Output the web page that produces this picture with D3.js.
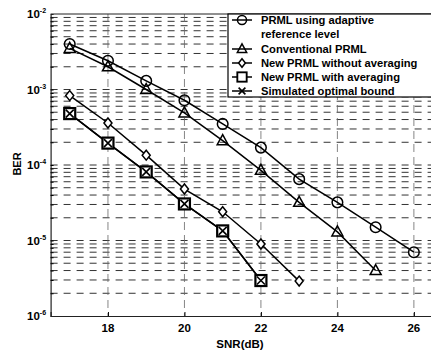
<!DOCTYPE html>
<html>
<head>
<meta charset="utf-8">
<script src="https://cdn.jsdelivr.net/npm/d3@7"></script>
<style>
  body { margin: 0; background: #fff; }
  svg { display: block; font-family: "Liberation Sans", Arial, sans-serif; font-weight: bold; }
</style>
</head>
<body>
<svg id="chart" width="431" height="353"></svg>
<script>
// data
const snr = [17, 18, 19, 20, 21, 22, 23, 24, 25, 26]
const adaptive = [4.0e-3, 2.4e-3, 1.3e-3, 7.2e-4, 3.5e-4, 1.7e-4, 6.5e-5, 3.2e-5, 1.5e-5, 7.0e-6]
const conventional = [3.5e-3, 2.0e-3, 1.0e-3, 4.9e-4, 2.1e-4, 8.5e-5, 3.2e-5, 1.3e-5, 4.0e-6]
const noAveraging = [8.3e-4, 3.6e-4, 1.35e-4, 4.8e-5, 2.4e-5, 9.0e-6, 2.9e-6]
const withAveraging = [4.8e-4, 1.95e-4, 8.1e-5, 3.05e-5, 1.34e-5, 2.95e-6]
const optimalBound = [4.8e-4, 1.95e-4, 8.1e-5, 3.05e-5, 1.34e-5, 2.95e-6]

const xTicks = [18, 20, 22, 24, 26]
const yExponents = [-2, -3, -4, -5, -6]
const legendLabels = [
    ["PRML using adaptive", "reference level"],
    ["Conventional PRML"],
    ["New PRML without averaging"],
    ["New PRML with averaging"],
    ["Simulated optimal bound"],
]

const series = [
    { values: adaptive, marker: "circle" },
    { values: conventional, marker: "triangle" },
    { values: noAveraging, marker: "diamond" },
    { values: withAveraging, marker: "square" },
    { values: optimalBound, marker: "cross" },
]

const svg = d3.select("#chart")
const pLeft = 50.6, pRight = 433, pTop = 14, pBottom = 316

const x = d3.scaleLinear().domain([16.5, 26.5]).range([pLeft, pRight])
const y = d3.scaleLog().domain([1e-6, 1e-2]).range([pBottom, pTop])

// grid
const minorVals = []
for (let e = -6; e < -2; e++) for (let m = 1; m < 10; m++) minorVals.push(m * Math.pow(10, e))
const gridVals = minorVals.filter((v) => v > 1.01e-6)

svg.append("g")
    .selectAll("line")
    .data(gridVals)
    .join("line")
    .attr("x1", pLeft).attr("x2", pRight)
    .attr("y1", (d) => y(d)).attr("y2", (d) => y(d))
    .attr("stroke", "#333")
    .attr("stroke-width", 1)
    .attr("stroke-dasharray", "7,6")

svg.append("g")
    .selectAll("line")
    .data(xTicks)
    .join("line")
    .attr("x1", (d) => x(d)).attr("x2", (d) => x(d))
    .attr("y1", pTop).attr("y2", pBottom)
    .attr("stroke", "#666")
    .attr("stroke-width", 0.8)
    .attr("stroke-dasharray", "8,5")

// axes box
const axisL = svg.append("g").attr("transform", `translate(${pLeft},0)`)
    .call(d3.axisRight(y).tickValues(gridVals).tickSize(3).tickFormat(""))
axisL.select(".domain").attr("stroke", "#222").attr("stroke-width", 1.2)
const axisB = svg.append("g").attr("transform", `translate(0,${pBottom})`)
    .call(d3.axisTop(x).tickValues(xTicks).tickSize(4).tickFormat(""))
axisB.select(".domain").attr("stroke", "#222").attr("stroke-width", 1.2)
svg.append("line").attr("x1", pLeft).attr("x2", pRight).attr("y1", pTop).attr("y2", pTop)
    .attr("stroke", "#222").attr("stroke-width", 1.2)

// tick labels
svg.append("g")
    .selectAll("text")
    .data(xTicks)
    .join("text")
    .attr("x", (d) => x(d))
    .attr("y", 332)
    .attr("text-anchor", "middle")
    .attr("font-size", 11.5)
    .text((d) => d)

const yl = svg.append("g")
    .selectAll("text")
    .data(yExponents)
    .join("text")
    .attr("x", 27)
    .attr("y", (d) => y(Math.pow(10, d)) + 4)
    .attr("font-size", 11.5)
yl.append("tspan").text("10")
yl.append("tspan").attr("dy", -5).attr("font-size", 7).text((d) => d)

svg.append("text")
    .attr("transform", `translate(21,164) rotate(-90)`)
    .attr("text-anchor", "middle")
    .attr("font-size", 11)
    .text("BER")
svg.append("text")
    .attr("x", 240).attr("y", 348)
    .attr("text-anchor", "middle")
    .attr("font-size", 11.5)
    .text("SNR(dB)")

// markers
function drawMarker(g, type, k = 1) {
    if (type === "circle") {
        g.append("circle").attr("r", 5.3 * k).attr("fill", "none").attr("stroke", "#000").attr("stroke-width", 1.5)
    } else if (type === "triangle") {
        g.append("path").attr("d", d3.line()([[0, -6 * k], [5.5 * k, 4 * k], [-5.5 * k, 4 * k]]) + "Z")
            .attr("fill", "none").attr("stroke", "#000").attr("stroke-width", 1.5)
    } else if (type === "diamond") {
        g.append("path").attr("d", d3.line()([[0, -5 * k], [4 * k, 0], [0, 5 * k], [-4 * k, 0]]) + "Z")
            .attr("fill", "#fff").attr("stroke", "#000").attr("stroke-width", 1.5)
    } else if (type === "square") {
        g.append("rect").attr("x", -5.5 * k).attr("y", -5.5 * k).attr("width", 11 * k).attr("height", 11 * k)
            .attr("fill", "#fff").attr("stroke", "#000").attr("stroke-width", 2.2 * k)
    } else if (type === "cross") {
        const c = 4 * k
        g.append("path").attr("d", `M${-c},${-c}L${c},${c}M${-c},${c}L${c},${-c}`)
            .attr("fill", "none").attr("stroke", "#000").attr("stroke-width", 1.6)
    }
}

const line = d3.line().x((d) => x(d[0])).y((d) => y(d[1]))

series.forEach((s) => {
    const pts = s.values.map((v, i) => [snr[i], v])
    svg.append("path")
        .datum(pts)
        .attr("fill", "none")
        .attr("stroke", "#000")
        .attr("stroke-width", 1.5)
        .attr("d", line)
})
series.forEach((s) => {
    svg.append("g")
        .selectAll("g")
        .data(s.values.map((v, i) => [snr[i], v]))
        .join("g")
        .attr("transform", (d) => `translate(${x(d[0])},${y(d[1])})`)
        .each(function () { drawMarker(d3.select(this), s.marker) })
})

// legend
const legend = svg.append("g")
legend.append("rect")
    .attr("x", 228).attr("y", pTop).attr("width", 220).attr("height", 83)
    .attr("fill", "#fff").attr("stroke", "#000").attr("stroke-width", 1.2)

const rowY = [20, 49, 63, 77, 91]
legendLabels.forEach((lbl, i) => {
    const ry = rowY[i]
    legend.append("line").attr("x1", 232).attr("x2", 252).attr("y1", ry).attr("y2", ry)
        .attr("stroke", "#000").attr("stroke-width", 1.5)
    const mg = legend.append("g").attr("transform", `translate(242,${ry})`)
    drawMarker(mg, series[i].marker, 0.85)
    lbl.forEach((t, j) => {
        legend.append("text")
            .attr("x", 261).attr("y", ry + 4 + j * 13.5)
            .attr("font-size", 11.2)
            .text(t)
    })
})
</script>
</body>
</html>
